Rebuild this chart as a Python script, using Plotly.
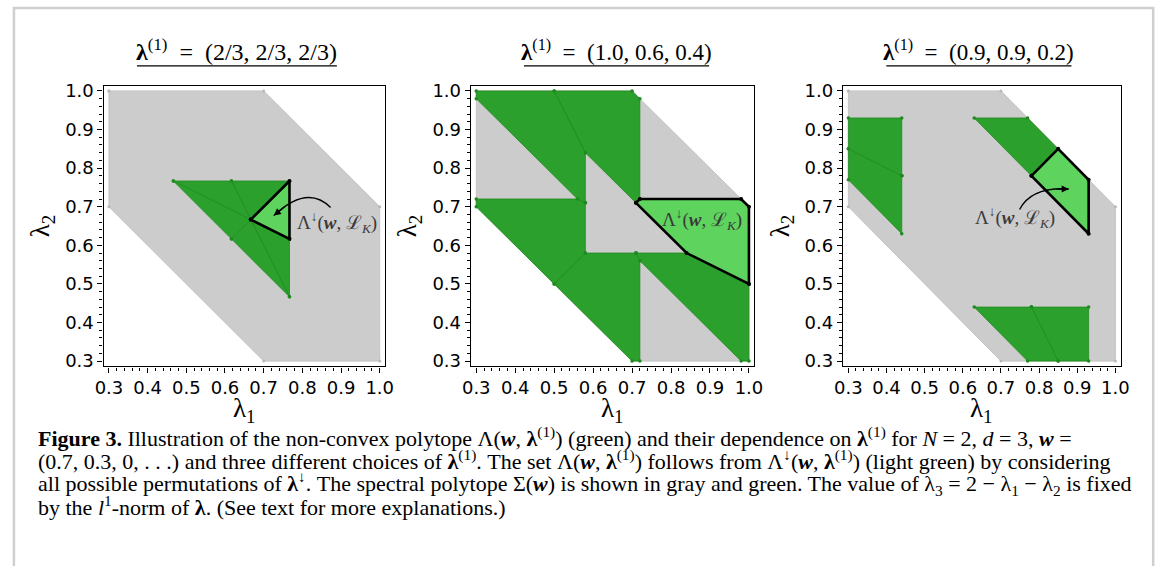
import itertools
import plotly.graph_objects as go

# Spectral polytope Σ(w) for w = (0.7, 0.3): hexagon in the (λ1, λ2) plane
SIGMA_L1 = [0.3, 0.7, 1.0, 1.0, 0.7, 0.3]
SIGMA_L2 = [1.0, 1.0, 0.7, 0.3, 0.3, 0.7]

# The three choices of λ^(1) (panel titles)
LAMBDA_CHOICES = ["(2/3, 2/3, 2/3)", "(1.0, 0.6, 0.4)", "(0.9, 0.9, 0.2)"]

# Ordered region Λ↓(w, λ^(1)) (λ1 ≥ λ2 ≥ λ3) for each choice, vertices in (λ1, λ2)
DOWN_L1 = [
    [2 / 3, 0.7667, 0.7667],
    [0.71, 0.72, 0.98, 1.00, 1.00, 0.84],
    [0.78, 0.85, 0.93, 0.93],
]
DOWN_L2 = [
    [2 / 3, 0.7667, 0.6167],
    [0.71, 0.72, 0.72, 0.70, 0.50, 0.58],
    [0.78, 0.85, 0.77, 0.63],
]

# Label placement and curved pointers (start, control, tip) in data units
LABEL_X = [0.889, 0.879, 0.738]
LABEL_Y = [0.660, 0.668, 0.673]
POINTERS = [
    ((0.873, 0.698), (0.813, 0.759), (0.726, 0.677)),
    None,
    ((0.749, 0.693), (0.780, 0.752), (0.878, 0.746)),
]

GRAY = "#cccccc"
GREEN = "#2ca02c"
LIGHT_GREEN = "#5ed35e"
EDGE_GREEN = "#1f8a1f"
SERIF = "Liberation Serif, DejaVu Serif, serif"

W, H = 1174, 566
DOMAINS_X = [(96, 382), (469, 757), (847, 1129)]
TITLE_SPAN = [(130, 333), (523, 711), (891, 1079)]
PLOT_TOP, PLOT_BOTTOM = 82, 368
AX_RANGE = [0.286, 1.014]


def px(x):
    return x / W


def py(y):
    return 1 - y / H


def closed(xs, ys):
    return list(xs) + [xs[0]], list(ys) + [ys[0]]


def permuted(l1s, l2s, pair):
    """Map the ordered region onto another ordering of (λ1, λ2, λ3)."""
    xs, ys = [], []
    for a, b in zip(l1s, l2s):
        lam = (a, b, 2 - a - b)
        xs.append(lam[pair[0]])
        ys.append(lam[pair[1]])
    return xs, ys


fig = go.Figure()
annotations = []
shapes = []

for i in range(3):
    xa = "x" if i == 0 else f"x{i + 1}"
    ya = "y" if i == 0 else f"y{i + 1}"

    # spectral polytope
    sx, sy = closed(SIGMA_L1, SIGMA_L2)
    fig.add_trace(go.Scatter(
        x=sx, y=sy, xaxis=xa, yaxis=ya, mode="lines+markers",
        fill="toself", fillcolor=GRAY,
        line=dict(color="#c4c4c4", width=1), marker=dict(color="#b8b8b8", size=3),
        hoverinfo="skip", showlegend=False,
    ))

    # all other orderings of λ (dark green)
    for pair in itertools.permutations(range(3), 2):
        if pair == (0, 1):
            continue
        gx, gy = permuted(DOWN_L1[i], DOWN_L2[i], pair)
        gx, gy = closed(gx, gy)
        fig.add_trace(go.Scatter(
            x=gx, y=gy, xaxis=xa, yaxis=ya, mode="lines+markers",
            fill="toself", fillcolor=GREEN,
            line=dict(color=EDGE_GREEN, width=0.8), marker=dict(color=EDGE_GREEN, size=3.5),
            hoverinfo="skip", showlegend=False,
        ))

    # ordered region Λ↓ (light green, black outline)
    dx, dy = closed(DOWN_L1[i], DOWN_L2[i])
    fig.add_trace(go.Scatter(
        x=dx, y=dy, xaxis=xa, yaxis=ya, mode="lines+markers",
        fill="toself", fillcolor=LIGHT_GREEN,
        line=dict(color="black", width=2.6), marker=dict(color="black", size=4),
        hoverinfo="skip", showlegend=False,
    ))

    # region label
    annotations.append(dict(
        x=LABEL_X[i], y=LABEL_Y[i], xref=xa, yref=ya, showarrow=False,
        xanchor="center", yanchor="middle",
        text="Λ<sup>↓</sup>(<b><i>w</i></b>, ℒ<sub><i>K</i></sub>)",
        font=dict(family=SERIF, size=19, color="#3a3a3a"),
    ))

    ptr = POINTERS[i]
    if ptr is not None:
        (x0, y0), (cx, cy), (x1, y1) = ptr
        shapes.append(dict(
            type="path", xref=xa, yref=ya,
            path=f"M {x0},{y0} Q {cx},{cy} {x1},{y1}",
            line=dict(color="black", width=1.3),
        ))
        t = 0.8
        tx = (1 - t) ** 2 * x0 + 2 * (1 - t) * t * cx + t ** 2 * x1
        ty = (1 - t) ** 2 * y0 + 2 * (1 - t) * t * cy + t ** 2 * y1
        annotations.append(dict(
            x=x1, y=y1, ax=tx, ay=ty, xref=xa, yref=ya, axref=xa, ayref=ya,
            text="", showarrow=True, arrowhead=2, arrowsize=1.1, arrowwidth=1.3,
            arrowcolor="black",
        ))

    # panel title with underline
    t0, t1 = TITLE_SPAN[i]
    annotations.append(dict(
        x=px((t0 + t1) / 2), y=py(46), xref="paper", yref="paper", showarrow=False,
        xanchor="center", yanchor="middle",
        text=f"<b>λ</b><sup>(1)</sup>  =  {LAMBDA_CHOICES[i]}",
        font=dict(family=SERIF, size=24 if i == 0 else 23, color="black"),
    ))
    shapes.append(dict(
        type="line", xref="paper", yref="paper",
        x0=px(t0), x1=px(t1), y0=py(62), y1=py(62),
        line=dict(color="black", width=1.3),
    ))

    # λ1 axis label
    d0, d1 = DOMAINS_X[i]
    annotations.append(dict(
        x=px((d0 + d1) / 2), y=py(412), xref="paper", yref="paper", showarrow=False,
        xanchor="center", yanchor="middle",
        text="λ<sub>1</sub>", font=dict(family=SERIF, size=27, color="black"),
    ))

axis_common = dict(
    range=AX_RANGE, showgrid=False, zeroline=False,
    showline=True, mirror=True, linecolor="black", linewidth=1.3,
    ticks="outside", ticklen=5, tickwidth=1, tickcolor="black",
    tick0=0.3, dtick=0.1, tickformat=".1f",
    tickfont=dict(family="DejaVu Sans", size=18, color="black"),
    minor=dict(ticks="outside", ticklen=3, tickwidth=0.8, tickcolor="black", dtick=0.02),
)

layout = dict(
    width=W, height=H, margin=dict(l=0, r=0, t=0, b=0),
    paper_bgcolor="white", plot_bgcolor="white",
    annotations=annotations, shapes=shapes,
)
for i in range(3):
    d0, d1 = DOMAINS_X[i]
    xk = "xaxis" if i == 0 else f"xaxis{i + 1}"
    yk = "yaxis" if i == 0 else f"yaxis{i + 1}"
    xa = "x" if i == 0 else f"x{i + 1}"
    ya = "y" if i == 0 else f"y{i + 1}"
    layout[xk] = dict(axis_common, domain=[px(d0), px(d1)], anchor=ya)
    layout[yk] = dict(
        axis_common, domain=[py(PLOT_BOTTOM), py(PLOT_TOP)], anchor=xa,
        title=dict(text="λ<sub>2</sub>", font=dict(family=SERIF, size=27, color="black"), standoff=7),
    )

# caption
CAPTION = [
    "<b>Figure 3.</b> Illustration of the non-convex polytope Λ(<b><i>w</i></b>, <b>λ</b><sup>(1)</sup>) (green) "
    "and their dependence on <b>λ</b><sup>(1)</sup> for <i>N</i> = 2, <i>d</i> = 3, <b><i>w</i></b> =",
    "(0.7, 0.3, 0, . . .) and three different choices of <b>λ</b><sup>(1)</sup>. The set "
    "Λ(<b><i>w</i></b>, <b>λ</b><sup>(1)</sup>) follows from Λ<sup>↓</sup>(<b><i>w</i></b>, <b>λ</b><sup>(1)</sup>) "
    "(light green) by considering",
    "all possible permutations of <b>λ</b><sup>↓</sup>. The spectral polytope Σ(<b><i>w</i></b>) is shown in gray "
    "and green. The value of λ<sub>3</sub> = 2 − λ<sub>1</sub> − λ<sub>2</sub> is fixed",
    "by the <i>l</i><sup>1</sup>-norm of <b>λ</b>. (See text for more explanations.)",
]
for k, line in enumerate(CAPTION):
    layout["annotations"].append(dict(
        x=px(27), y=py(440 + 23.3 * k), xref="paper", yref="paper",
        xanchor="left", yanchor="middle", showarrow=False, align="left",
        text=line, font=dict(family=SERIF, size=22, color="black"),
    ))

# page frame
layout["shapes"].append(dict(
    type="rect", xref="paper", yref="paper",
    x0=px(5), x1=px(1162), y0=-0.2, y1=py(3),
    line=dict(color="#cfcfcf", width=2.5), fillcolor="rgba(0,0,0,0)", layer="below",
))

fig.update_layout(**layout)
fig.write_html("out.html")
